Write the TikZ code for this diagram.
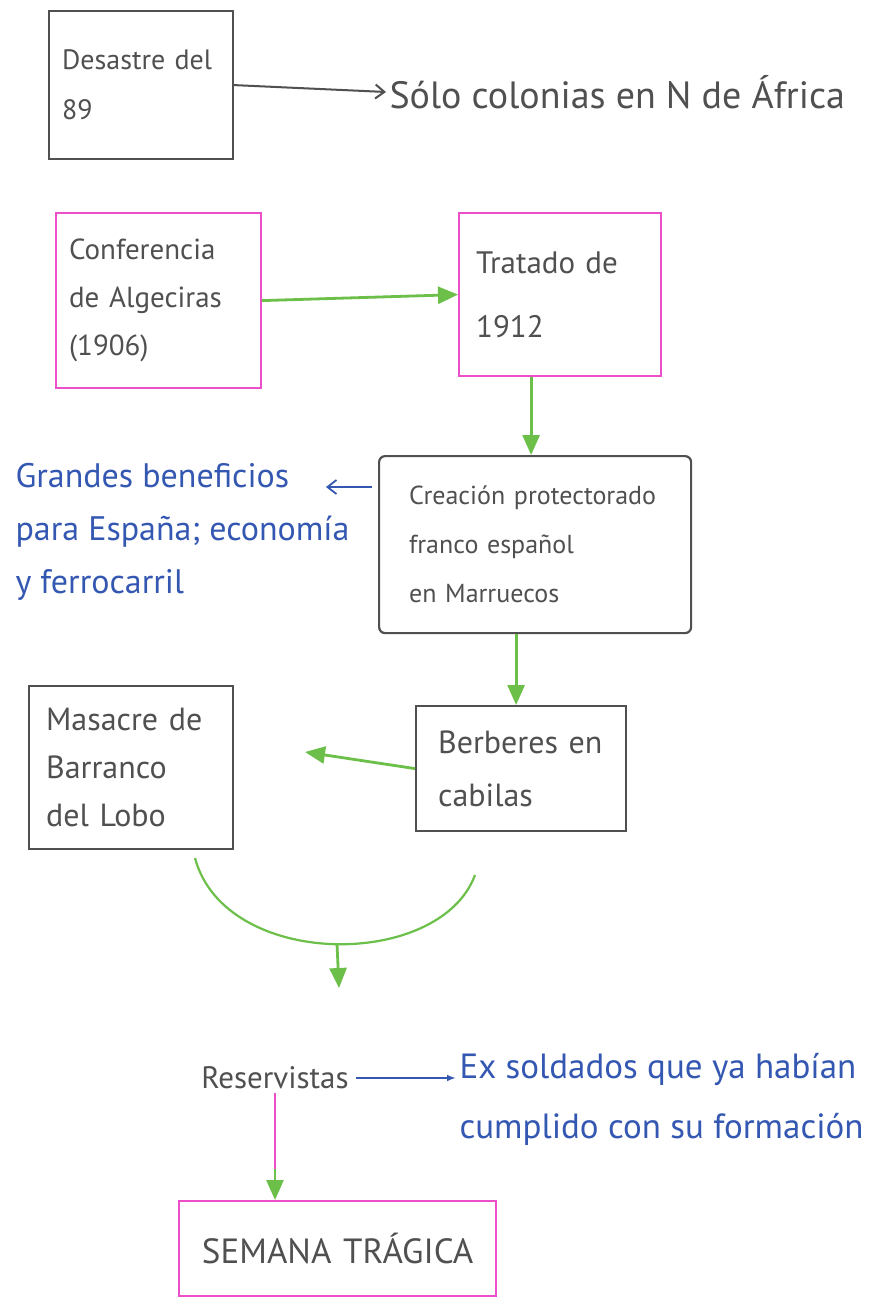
\documentclass[tikz,border=0pt]{standalone}
\usepackage{fontspec}
\setmainfont{PT Sans}
\usetikzlibrary{arrows.meta,positioning,calc}
\definecolor{pencil}{HTML}{505050}
\definecolor{marker}{HTML}{EC4FC8}
\definecolor{leaf}{HTML}{6CC04A}
\definecolor{ink}{HTML}{3458B2}
\newcommand{\hw}[2]{\fontsize{#1}{#2}\selectfont}
\tikzset{
  pbox/.style={draw=pencil,line width=2.2pt,text=pencil,align=left,inner xsep=13pt,anchor=north west},
  mbox/.style={pbox,draw=marker},
  garrow/.style={leaf,line width=2.8pt,-{Triangle[length=20pt,width=17pt]}},
  barrow/.style={ink,line width=1.8pt},
}

\begin{document}
\begin{tikzpicture}[x=1pt,y=-1pt,>={Straight Barb[length=9pt,width=14pt]}]
  \useasboundingbox (0,0) rectangle (873,1303);
  \fill[white] (0,0) rectangle (873,1303);
  \node[pbox,text width=158pt,minimum width=184pt,minimum height=148pt,font=\hw{28}{50}] (desastre) at (48,10) {Desastre del\\89};
  \node[anchor=west,text=pencil,font=\hw{38}{44}] (colonias) at (386,92) {Sólo colonias en N de África};
  \draw[pencil,line width=2pt,->] (desastre.east) -- (colonias.west);
  \node[mbox,text width=179pt,minimum width=205pt,minimum height=175pt,font=\hw{29}{48}] (conf) at (55,212) {Conferencia\\de Algeciras\\(1906)};
  \node[mbox,inner xsep=17pt,text width=168pt,minimum width=202pt,minimum height=163pt,font=\hw{31}{64}] (tratado) at (458,212) {Tratado de\\1912};
  \draw[garrow] (conf.east) -- (tratado.west);
  \node[pbox,rounded corners=6pt,inner xsep=30pt,text width=252pt,minimum width=312pt,minimum height=177pt,font=\hw{26}{49}] (creacion) at (378,455) {Creación protectorado\\franco español\\en Marruecos};
  \draw[garrow] ([xshift=-29pt]tratado.south) -- ([xshift=-29pt]tratado.south |- creacion.north);
  \node[text=ink,align=left,anchor=north west,font=\hw{34}{53}] (beneficios) at (12,460) {Grandes beneficios\\para España; economía\\y ferrocarril};
  \coordinate (benefpunta) at (326,487);
  \draw[barrow,<-,shorten >=6pt] (benefpunta) -- (benefpunta -| creacion.west);
  \node[pbox,inner xsep=22pt,text width=166pt,minimum width=210pt,minimum height=125pt,font=\hw{32}{53}] (berberes) at (415,705) {Berberes en\\cabilas};
  \draw[garrow] ([xshift=-19pt]creacion.south) -- ([xshift=-19pt]creacion.south |- berberes.north);
  \node[pbox,inner xsep=17pt,text width=170pt,minimum width=204pt,minimum height=163pt,font=\hw{32}{48}] (masacre) at (28,685) {Masacre de\\Barranco\\del Lobo};
  \coordinate (masacrepunta) at (305,752);
  \draw[garrow] (berberes.west) -- (masacrepunta);
  \coordinate (uizq) at (195,858);
  \coordinate (uder) at (475,875);
  \coordinate (ufondo) at (337,944);
  \coordinate (reservpunta) at (339,988);
  \draw[leaf,line width=2.2pt] (uizq) .. controls (225,970) and (440,970) .. (uder);
  \draw[garrow] (ufondo) -- (reservpunta);
  \node[text=pencil,font=\hw{31}{36}] (reserv) at (275,1078) {Reservistas};
  \node[text=ink,anchor=north west,align=left,font=\hw{35}{60}] (soldados) at (456,1050) {Ex soldados que ya habían\\cumplido con su formación};
  \draw[barrow,-{Latex[length=9pt]},shorten <=4pt] (reserv.east) -- (reserv.east -| soldados.west);
  \node[mbox,align=center,text width=291pt,minimum width=317pt,minimum height=95pt,font=\hw{35}{40}] (semana) at (178,1200) {SEMANA TRÁGICA};
  \draw[garrow] (reserv.south) -- (reserv.south |- semana.north);
  \draw[marker,line width=1.3pt] (reserv.south) -- ++(0,76);
\end{tikzpicture}
\end{document}
